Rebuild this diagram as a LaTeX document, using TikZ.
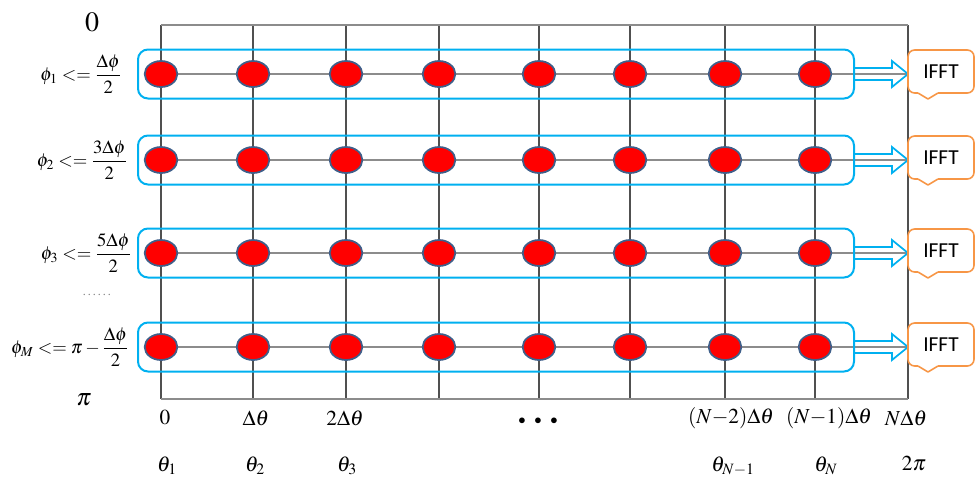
\documentclass[tikz,border=0pt]{standalone}
\usepackage{amsmath}
\usepackage{mathptmx}
\usepackage{fontspec}
\setmainfont{Liberation Serif}
\newfontfamily\ifftfont{Carlito}
\usetikzlibrary{shapes.geometric}
\definecolor{boxblue}{HTML}{00B0F0}
\definecolor{dotedge}{HTML}{3F5F8A}
\definecolor{callorange}{HTML}{F79646}
\definecolor{gridgray}{HTML}{505050}
\definecolor{rowgray}{HTML}{8C8C8C}
\tikzset{
  gridline/.style={draw=gridgray, line width=0.8pt},
  rowline/.style={draw=rowgray, line width=0.8pt},
  dot/.style={ellipse, draw=dotedge, line width=1.3pt, fill=red, minimum width=24.5pt, minimum height=19.5pt, inner sep=0pt},
  rowbox/.style={draw=boxblue, line width=1.5pt, rounded corners=7.5pt},
  arrowline/.style={draw=boxblue, line width=1.3pt},
  callout/.style={draw=callorange, line width=1.2pt, fill=white, rounded corners=5pt, minimum width=49.5pt, minimum height=32.25pt, inner sep=0pt, font=\ifftfont\fontsize{16}{18}\selectfont},
  leftlab/.style={font=\fontsize{14}{16}\selectfont, inner sep=0pt},
  botlab/.style={font=\fontsize{16}{19}\selectfont, inner sep=0pt},
}
\begin{document}
\begin{tikzpicture}[x=0.75pt,y=-0.75pt]
\useasboundingbox (0,0) rectangle (975,483);
% grid
\foreach \x in {161,253,346,439,539,630,725,815,908}{
  \draw[gridline] (\x,25) -- (\x,399);
}
\draw[rowline] (161,25) -- (908,25);
\draw[rowline] (161,399) -- (908,399);
% rows
\foreach \y/\r in {74/1,160/2,253/3,347/4}{
  \coordinate (rs\r) at (161,\y);
  \coordinate (re\r) at (908,\y);
  \draw[rowline] (rs\r) -- (re\r);
  \draw[rowbox] (138,\y-24.5) rectangle (854,\y+24.5);
  \foreach \x [count=\i] in {161,253,346,439,539,630,725,815}{
    \node[dot] (d\r-\i) at (\x,\y) {};
  }
  \draw[arrowline] (854,\y-6) -- (892,\y-6) -- (892,\y-13) -- (908,\y) -- (892,\y+13) -- (892,\y+6) -- (854,\y+6);
  \node[callout] (f\r) at (941,\y-2.5) {IFFT};
  \fill[white] (918,\y+17.2) rectangle (938,\y+20.8);
  \draw[callorange, line width=1.2pt, line join=round] (918,\y+19) -- (928,\y+25) -- (938,\y+19);
}
% left labels
\node[font=\fontsize{21}{23}\selectfont, inner sep=0pt] (zero) at (92,22) {$0$};
\node[font=\fontsize{18}{20}\selectfont, inner sep=0pt] (pi) at (84,400) {$\boldsymbol{\pi}$};
\node[leftlab] (l1) at (81,74) {$\phi_1 <= \dfrac{\Delta\phi}{2}$};
\node[leftlab] (l2) at (82,160) {$\phi_2 <= \dfrac{3\Delta\phi}{2}$};
\node[leftlab] (l3) at (86,253) {$\phi_3 <= \dfrac{5\Delta\phi}{2}$};
\node[leftlab] (l4) at (70,347) {$\phi_M <= \pi - \dfrac{\Delta\phi}{2}$};
\node[font=\fontsize{9}{10}\selectfont, text=gray, inner sep=0pt] (vd) at (97,295) {.\,.\,.\,.\,.\,.};
% bottom labels
\node[botlab] (b1) at (165,418) {$0$};
\node[botlab] (b2) at (256,418) {$\Delta\theta$};
\node[botlab] (b3) at (345,418) {$2\Delta\theta$};
\node[font=\fontsize{11}{12}\selectfont, inner sep=0pt] (b4) at (538,421) {$\bullet\hspace{5pt}\bullet\hspace{5pt}\bullet$};
\node[botlab] (b5) at (731,418) {$(N{-}2)\Delta\theta$};
\node[botlab] (b6) at (829,418) {$(N{-}1)\Delta\theta$};
\node[botlab] (b7) at (906,418) {$N\Delta\theta$};
\node[botlab] (t1) at (167,466) {$\theta_1$};
\node[botlab] (t2) at (255,466) {$\theta_2$};
\node[botlab] (t3) at (347,466) {$\theta_3$};
\node[botlab] (t4) at (733,466) {$\theta_{N-1}$};
\node[botlab] (t5) at (826,466) {$\theta_N$};
\node[botlab] (t6) at (914,464) {$2\boldsymbol{\pi}$};
\end{tikzpicture}
\end{document}
